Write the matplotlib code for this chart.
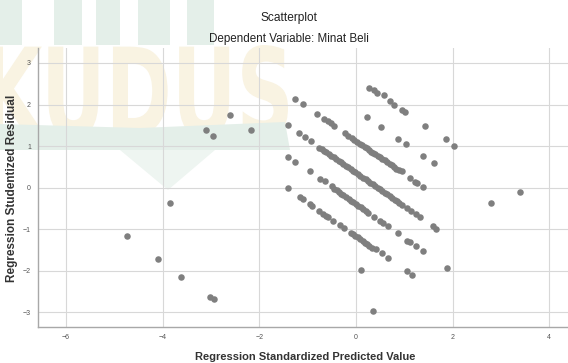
import matplotlib
matplotlib.use("Agg")
import matplotlib.pyplot as plt
from matplotlib.textpath import TextPath
from matplotlib.font_manager import FontProperties
from matplotlib.patches import PathPatch, Polygon, Rectangle
from matplotlib.transforms import Affine2D

plt.rcParams['font.family'] = ['Liberation Sans', 'DejaVu Sans']

# standardized predicted value / studentized residual
pred_top = [0.27, 0.38, 0.43, 0.59, 0.70, 0.79, 0.95, 1.01, 1.44, 1.86, 2.04]
resid_top = [2.41, 2.35, 2.28, 2.24, 2.09, 1.99, 1.87, 1.81, 1.48, 1.16, 1.00]

pred_2 = [0.22, 0.51, 0.88, 1.04, 1.39, 1.61]
resid_2 = [1.71, 1.47, 1.17, 1.05, 0.76, 0.59]

pred_3 = [-1.26, -1.10, -0.81, -0.67, -0.57, -0.52, -0.45, -0.23, -0.16, -0.09,
          -0.03, 0.03, 0.08, 0.13, 0.18, 0.22, 0.27, 0.31, 0.36, 0.40, 0.45,
          0.50, 0.55, 0.60, 0.65, 0.70, 0.75, 0.79, 0.84, 0.89, 0.95, 1.12,
          1.22, 1.26, 1.38]
resid_3 = [2.14, 2.01, 1.78, 1.66, 1.60, 1.56, 1.48, 1.31, 1.25, 1.20,
           1.15, 1.11, 1.06, 1.02, 0.98, 0.95, 0.91, 0.87, 0.83, 0.80, 0.77,
           0.73, 0.69, 0.66, 0.62, 0.58, 0.54, 0.50, 0.46, 0.43, 0.39, 0.23,
           0.13, 0.11, 0.01]

pred_4 = [-1.41, -1.17, -1.06, -0.93, -0.76, -0.71, -0.66, -0.61, -0.56, -0.51,
          -0.46, -0.41, -0.36, -0.31, -0.26, -0.21, -0.16, -0.11, -0.06, -0.01,
          0.04, 0.09, 0.15, 0.20, 0.25, 0.30, 0.35, 0.40, 0.45, 0.50, 0.55,
          0.60, 0.65, 0.70, 0.75, 0.80, 0.85, 0.90, 0.95, 1.05, 1.15, 1.24,
          1.33, 1.60, 1.66]
resid_4 = [1.51, 1.31, 1.21, 1.12, 0.96, 0.93, 0.89, 0.85, 0.81, 0.77,
           0.73, 0.69, 0.65, 0.61, 0.57, 0.53, 0.49, 0.45, 0.41, 0.37,
           0.33, 0.29, 0.23, 0.20, 0.16, 0.12, 0.08, 0.04, 0.00, -0.04, -0.08,
           -0.12, -0.16, -0.20, -0.24, -0.29, -0.33, -0.37, -0.41, -0.48, -0.55, -0.63,
           -0.71, -0.93, -0.99]

pred_5 = [-1.40, -1.26, -0.94, -0.75, -0.64, -0.50, -0.45, -0.40, -0.35, -0.30,
          -0.26, -0.20, -0.15, -0.10, -0.05, 0.00, 0.05, 0.10, 0.15, 0.20,
          0.25, 0.37, 0.49, 0.57, 0.67, 0.88, 1.06, 1.12, 1.24, 1.38, 1.88]
resid_5 = [0.73, 0.63, 0.39, 0.20, 0.15, 0.03, -0.02, -0.06, -0.10, -0.14,
           -0.17, -0.23, -0.27, -0.31, -0.35, -0.39, -0.43, -0.47, -0.51, -0.55,
           -0.61, -0.70, -0.79, -0.84, -0.93, -1.09, -1.27, -1.31, -1.40, -1.53, -1.93]

pred_6 = [-1.40, -1.16, -1.09, -0.95, -0.90, -0.76, -0.68, -0.62, -0.57, -0.48,
          -0.32, -0.25, -0.11, -0.06, -0.01, 0.04, 0.09, 0.14, 0.19, 0.24,
          0.28, 0.33, 0.41, 0.53, 0.67, 1.05, 1.17]
resid_6 = [-0.01, -0.23, -0.28, -0.39, -0.44, -0.55, -0.63, -0.67, -0.71, -0.79,
           -0.89, -0.96, -1.08, -1.11, -1.15, -1.19, -1.23, -1.28, -1.32, -1.36,
           -1.40, -1.45, -1.48, -1.56, -1.69, -2.00, -2.09]

pred_other = [0.10, 0.36, -4.73, -4.10, -3.85, -3.62, -3.01, -2.94,
              -3.11, -2.96, -2.61, -2.17, 2.79, 3.39]
resid_other = [-1.99, -2.96, -1.17, -1.72, -0.36, -2.14, -2.63, -2.68,
               1.39, 1.25, 1.75, 1.39, -0.37, -0.10]

xs = pred_top + pred_2 + pred_3 + pred_4 + pred_5 + pred_6 + pred_other
ys = resid_top + resid_2 + resid_3 + resid_4 + resid_5 + resid_6 + resid_other

W, H = 568, 363
fig = plt.figure(figsize=(W / 100, H / 100), dpi=100)

# faint repository watermark behind the plot
to_fig = Affine2D().scale(1 / W, 1 / H) + fig.transFigure
green = '#e4efe9'
yellow = '#f9f3e2'
for x0, x1 in [(0, 22), (54, 82), (96, 120), (138, 170), (187, 214)]:
    fig.add_artist(Rectangle((x0, H - 45), x1 - x0, 45, color=green, lw=0,
                             transform=to_fig, zorder=0))
tp = TextPath((0, 0), "KUDUS", size=1, prop=FontProperties(family='DejaVu Sans', weight='bold'))
ext = tp.get_extents()
sx = 300 / ext.width
sy = 92 / ext.height
tr = Affine2D().translate(-ext.x0, -ext.y0).scale(sx, sy).translate(-12, H - 137) + to_fig
fig.add_artist(PathPatch(tp, color=yellow, lw=0, transform=tr, zorder=0))
fig.add_artist(Polygon([(0, H - 150), (0, H - 124), (140, H - 128), (285, H - 122),
                        (290, H - 150)], closed=True, color=green, lw=0,
                       transform=to_fig, zorder=0))
fig.add_artist(Polygon([(120, H - 150), (215, H - 150), (168, H - 190)], closed=True,
                       color='#eef5f1', lw=0, transform=to_fig, zorder=0))

ax = fig.add_axes([38 / W, 1 - 327 / H, 1 - 38 / W, (327 - 48) / H])
ax.set_facecolor('none')
ax.scatter(xs, ys, s=22, color='#7f7f7f', linewidths=0, zorder=3)

ax.set_xlim(-6.58, 4.39)
ax.set_ylim(-3.35, 3.36)
ax.set_xticks([-6, -4, -2, 0, 2, 4])
ax.set_yticks([-3, -2, -1, 0, 1, 2, 3])
ax.grid(True, color='#d8d8d8', linewidth=0.8)
ax.set_axisbelow(True)
for side in ['top', 'right']:
    ax.spines[side].set_visible(False)
for side in ['left', 'bottom']:
    ax.spines[side].set_color('#a8a8a8')
    ax.spines[side].set_linewidth(1.0)
ax.tick_params(length=0, labelsize=5, labelcolor='#555555', pad=5)

fig.text(289 / W, 1 - 18 / H, "Scatterplot", ha='center', va='center',
         fontsize=8.6, color='#222222')
fig.text(289 / W, 1 - 39 / H, "Dependent Variable: Minat Beli", ha='center',
         va='center', fontsize=8.4, color='#222222')
fig.text(305 / W, 1 - 357 / H, "Regression Standardized Predicted Value",
         ha='center', va='center', fontsize=8, fontweight='bold', color='#333333')
fig.text(12 / W, 1 - 188 / H, "Regression Studentized Residual", ha='center',
         va='center', rotation=90, fontsize=8.5, fontweight='bold', color='#333333')

fig.savefig("out.png", dpi=100)
